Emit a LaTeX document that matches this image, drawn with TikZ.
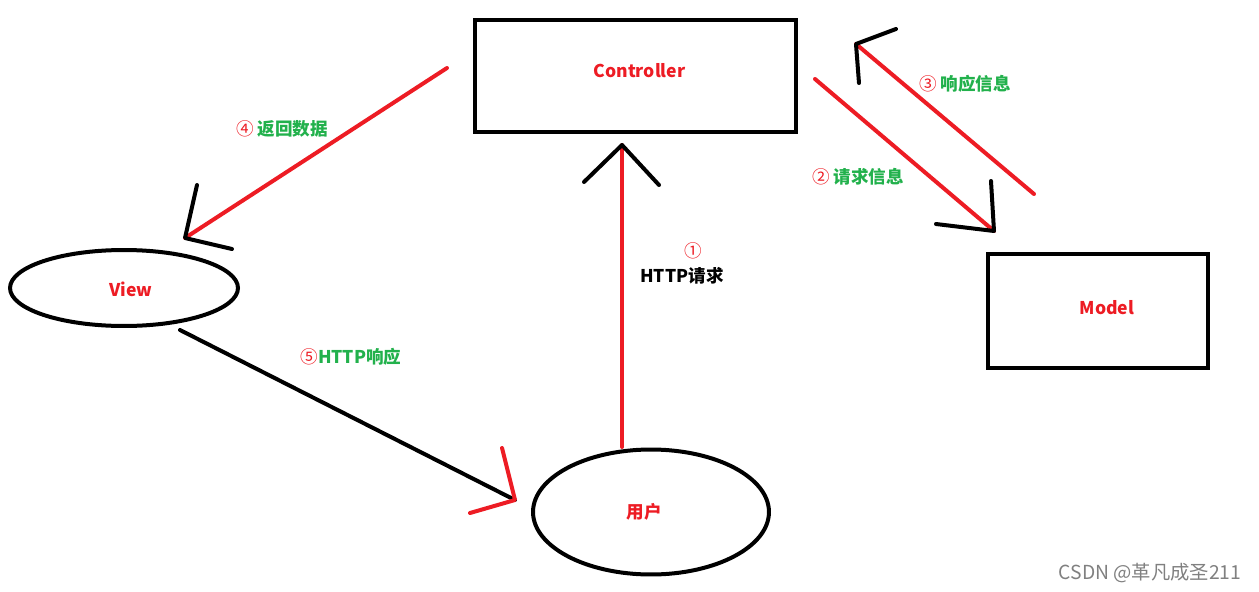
\documentclass[tikz,border=0pt]{standalone}
\usepackage{fontspec}
\setmainfont{Noto Sans CJK SC}
\usepackage{xcolor}
\usetikzlibrary{shapes.geometric,calc}
\definecolor{tintaVermelha}{HTML}{ED1C24}
\definecolor{tintaVerde}{HTML}{22B14C}
\tikzset{
    caixa/.style={
        rectangle,
        draw,
        line width=0.08cm,
        minimum width=6.42cm,
        minimum height=2.24cm
    },
    oval/.style={
        ellipse,
        draw,
        line width=0.08cm,
        inner sep=0pt
    },
    nome/.style={font=\bfseries, text=tintaVermelha, inner sep=0pt},
    linhaVermelha/.style={draw=tintaVermelha, line width=0.08cm, line cap=round},
    linhaPreta/.style={draw=black, line width=0.08cm, line cap=round},
    pontaPreta/.style={linhaPreta, line join=round},
    pontaVermelha/.style={linhaVermelha, line join=round},
    rotulo/.style={font=\bfseries, text=tintaVerde, inner sep=0pt},
    numero/.style={text=tintaVermelha, font=\mdseries}
}

\begin{document}
\begin{tikzpicture}[x=0.02cm, y=-0.02cm, font=\fontsize{10pt}{12pt}\selectfont]
    \useasboundingbox (0,0) rectangle (1259,592);

    % blocos
    \node[caixa] (controller) at (635.5,76) {};
    \node[caixa, minimum width=4.4cm, minimum height=2.28cm] (model) at (1098,311) {};
    \node[oval, minimum width=4.56cm, minimum height=1.52cm] (view) at (124,288) {};
    \node[oval, minimum width=4.72cm, minimum height=2.5cm] (usuario) at (651,512) {};

    \node[nome] (tcontroller) at ($(controller)+(4,-5)$) {Controller};
    \node[nome] (tmodel) at ($(model)+(9,-3)$) {Model};
    \node[nome] (tview) at ($(view)+(7,1)$) {View};
    \node[nome] (tusuario) at ($(usuario)+(-7,0)$) {用户};

    % pontos das setas
    \coordinate (req1a) at (622,447);
    \coordinate (req1b) at (622,145);
    \coordinate (req2a) at (815,79);
    \coordinate (req2b) at (994,231);
    \coordinate (resp3a) at (1034,194);
    \coordinate (resp3b) at (856,44);
    \coordinate (dados4a) at (447,68);
    \coordinate (dados4b) at (185,238);
    \coordinate (resp5a) at (180,330);
    \coordinate (resp5b) at (515,500);

    % setas
    \draw[linhaVermelha] (req1a) -- (req1b);
    \draw[pontaPreta] ($(req1b)+(-38,37)$) -- (req1b) -- ($(req1b)+(37,40)$);

    \draw[linhaVermelha] (req2a) -- (req2b);
    \draw[pontaPreta] ($(req2b)+(-3,-50)$) -- (req2b) -- ($(req2b)+(-58,-7)$);

    \draw[linhaVermelha] (resp3a) -- (resp3b);
    \draw[pontaPreta] ($(resp3b)+(40,-15)$) -- (resp3b) -- ($(resp3b)+(3,39)$);

    \draw[linhaVermelha] (dados4a) -- (dados4b);
    \draw[pontaPreta] ($(dados4b)+(12,-53)$) -- (dados4b) -- ($(dados4b)+(47,11)$);

    \draw[linhaPreta] (resp5a) -- (resp5b);
    \draw[pontaVermelha] ($(resp5b)+(-13,-52)$) -- (resp5b) -- ($(resp5b)+(-45,13)$);

    % rotulos
    \node[numero] (n1) at (693,251) {①};
    \node[font=\bfseries, inner sep=0pt] (http1) at (682,276) {HTTP请求};
    \node[rotulo] (rot2) at (858,177) {\textcolor{tintaVermelha}{\mdseries ②} 请求信息};
    \node[rotulo] (rot3) at (965,84) {\textcolor{tintaVermelha}{\mdseries ③} 响应信息};
    \node[rotulo] (rot4) at (282,129) {\textcolor{tintaVermelha}{\mdseries ④} 返回数据};
    \node[rotulo] (rot5) at (351,357) {\textcolor{tintaVermelha}{\mdseries ⑤}HTTP响应};

    \node[text=gray, font=\fontsize{11pt}{13pt}\selectfont, inner sep=0pt] (marca) at (1150,573) {CSDN @革凡成圣211};
\end{tikzpicture}
\end{document}
